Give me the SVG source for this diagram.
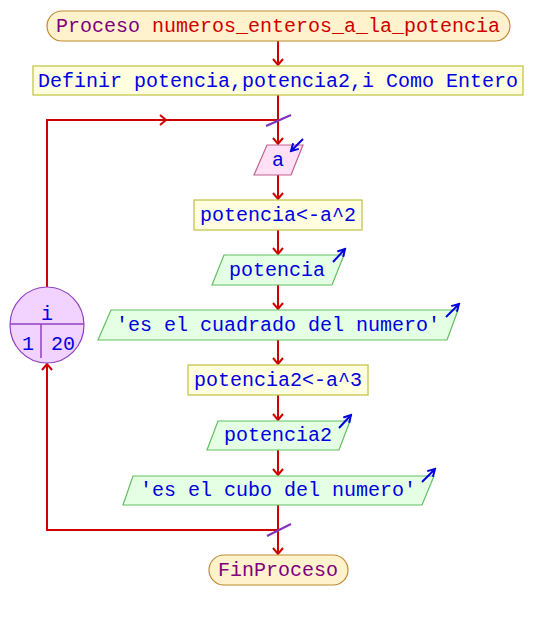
<svg xmlns="http://www.w3.org/2000/svg" width="534" height="620" viewBox="0 0 534 620">
<style>
text{font-family:"Liberation Mono","Courier New",monospace;font-size:20px;text-anchor:middle}
.t{fill:#0000e0}
.p{fill:#800080}
.r{fill:#d00000}
.term{fill:#fff2cc;stroke:#c08a30;stroke-width:1.2}
.proc{fill:#ffffe0;stroke:#c0c040;stroke-width:1.2}
.in{fill:#ffe0f4;stroke:#c06090;stroke-width:1.2}
.out{fill:#e4ffe4;stroke:#60c060;stroke-width:1.2}
.loop{fill:#f2d2ff;stroke:#9040c0;stroke-width:1.2}
.c{fill:none;stroke:#d00000;stroke-width:2}
.s{fill:none;stroke:#8030c0;stroke-width:2}
.io{fill:none;stroke:#0000e0;stroke-width:2}
</style>
<defs>
<marker id="ah" markerWidth="12" markerHeight="12" refX="10" refY="6" orient="auto" markerUnits="userSpaceOnUse">
<polyline points="4,1 10,6 4,11" fill="none" stroke="#d00000" stroke-width="2"/>
</marker>
<marker id="bh" markerWidth="10" markerHeight="10" refX="8" refY="5" orient="auto" markerUnits="userSpaceOnUse">
<polyline points="1,1 8,5 1,9" fill="none" stroke="#0000e0" stroke-width="2"/>
</marker>
</defs>
<g id="connectors">
<line class="c" x1="278" y1="41" x2="278" y2="65" marker-end="url(#ah)"/>
<line class="c" x1="278" y1="95" x2="278" y2="144" marker-end="url(#ah)"/>
<line class="c" x1="278" y1="175" x2="278" y2="199" marker-end="url(#ah)"/>
<line class="c" x1="278" y1="230" x2="278" y2="254" marker-end="url(#ah)"/>
<line class="c" x1="278" y1="285" x2="278" y2="309" marker-end="url(#ah)"/>
<line class="c" x1="278" y1="340" x2="278" y2="364" marker-end="url(#ah)"/>
<line class="c" x1="278" y1="395" x2="278" y2="420" marker-end="url(#ah)"/>
<line class="c" x1="278" y1="450" x2="278" y2="475" marker-end="url(#ah)"/>
<line class="c" x1="278" y1="505" x2="278" y2="554" marker-end="url(#ah)"/>
<polyline class="c" points="47,287 47,120 278,120"/>
<line class="c" x1="47" y1="120" x2="166" y2="120" marker-end="url(#ah)"/>
<polyline class="c" points="278,530 47,530 47,364"/>
<line class="c" x1="47" y1="400" x2="47" y2="364" marker-end="url(#ah)"/>
<line class="s" x1="266" y1="126" x2="291" y2="115"/>
<line class="s" x1="267" y1="536" x2="291" y2="524"/>
</g>
<g id="start">
<rect class="term" x="47" y="11" width="463" height="30" rx="15" ry="15"/>
<text x="278" y="32"><tspan class="p">Proceso</tspan> <tspan class="r">numeros_enteros_a_la_potencia</tspan></text>
</g>
<g id="definir">
<rect class="proc" x="33" y="66" width="490" height="29"/>
<text class="t" x="278" y="87">Definir potencia,potencia2,i Como Entero</text>
</g>
<g id="loop">
<ellipse class="loop" cx="47" cy="325" rx="37" ry="38"/>
<line x1="10" y1="324" x2="84" y2="324" stroke="#9040c0" stroke-width="1.5"/>
<line x1="41" y1="324" x2="41" y2="358" stroke="#9040c0" stroke-width="1.5"/>
<text class="t" x="47" y="320">i</text>
<text class="t" x="28" y="350">1</text>
<text class="t" x="63" y="350">20</text>
</g>
<g id="leer">
<polygon class="in" points="267,145 303,145 291,175 254,175"/>
<text class="t" x="278" y="166">a</text>
<line class="io" x1="303" y1="139" x2="291" y2="151" marker-end="url(#bh)"/>
</g>
<g id="asig1">
<rect class="proc" x="194" y="200" width="168" height="30"/>
<text class="t" x="278" y="221">potencia&lt;-a^2</text>
</g>
<g id="esc1">
<polygon class="out" points="224,255 344,255 332,285 212,285"/>
<text class="t" x="277" y="276">potencia</text>
<line class="io" x1="333" y1="262" x2="345" y2="249" marker-end="url(#bh)"/>
</g>
<g id="esc2">
<polygon class="out" points="111,310 458,310 447,340 98,340"/>
<text class="t" x="278" y="331">'es el cuadrado del numero'</text>
<line class="io" x1="446" y1="317" x2="459" y2="304" marker-end="url(#bh)"/>
</g>
<g id="asig2">
<rect class="proc" x="188" y="365" width="180" height="30"/>
<text class="t" x="278" y="386">potencia2&lt;-a^3</text>
</g>
<g id="esc3">
<polygon class="out" points="218,421 350,421 339,450 207,450"/>
<text class="t" x="278" y="441">potencia2</text>
<line class="io" x1="339" y1="428" x2="351" y2="415" marker-end="url(#bh)"/>
</g>
<g id="esc4">
<polygon class="out" points="133,476 434,476 422,505 123,505"/>
<text class="t" x="278" y="496">'es el cubo del numero'</text>
<line class="io" x1="422" y1="482" x2="435" y2="469" marker-end="url(#bh)"/>
</g>
<g id="end">
<rect class="term" x="209" y="555" width="139" height="30" rx="15" ry="15"/>
<text class="p" x="278" y="576">FinProceso</text>
</g>
</svg>
